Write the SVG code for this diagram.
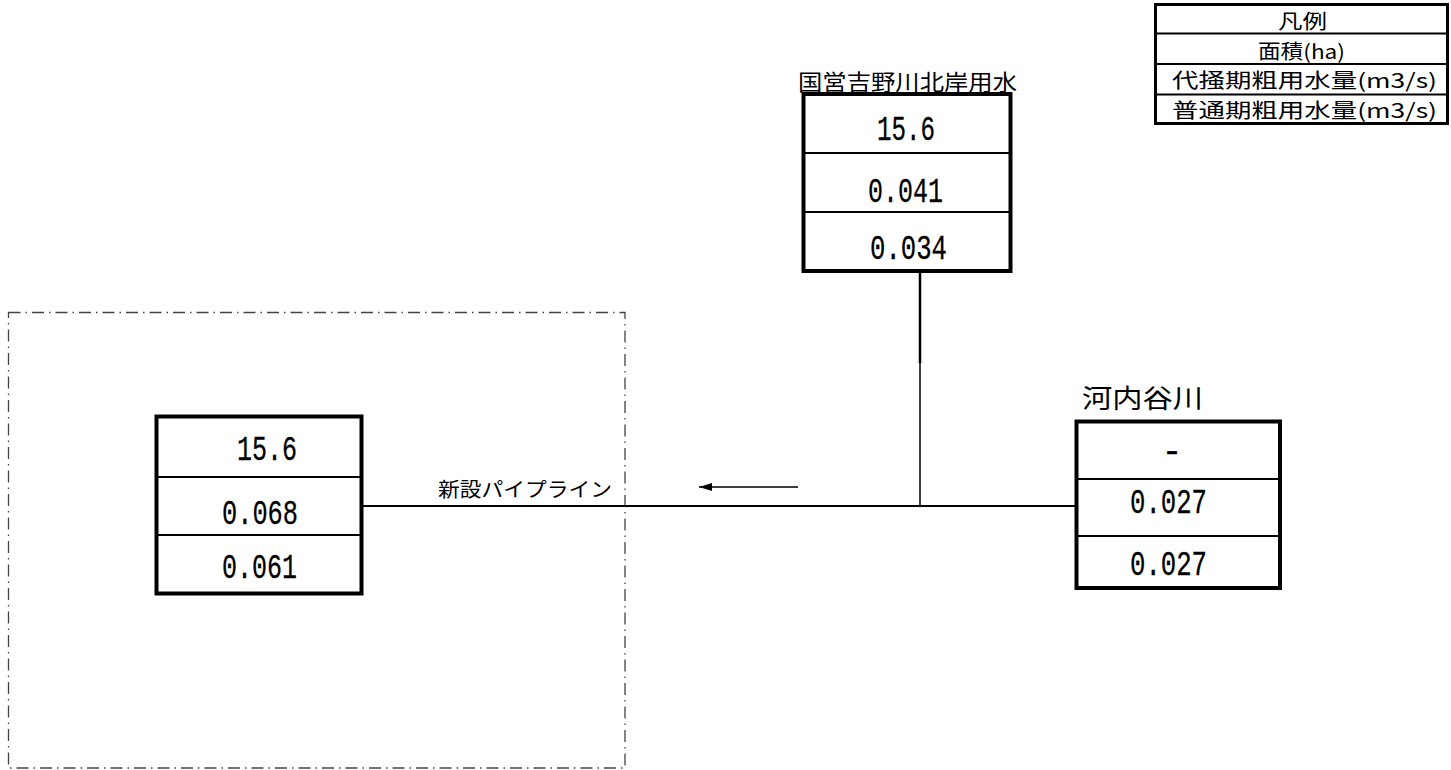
<svg xmlns="http://www.w3.org/2000/svg" width="1451" height="770" viewBox="0 0 1451 770">
<defs>
<style>
.box{fill:#fff;stroke:#000;stroke-width:4}
.div{stroke:#000;stroke-width:2;fill:none}
.num{font-family:"Liberation Mono","DejaVu Sans Mono",monospace;font-size:35px;fill:#000;stroke:#000;stroke-width:0.3}
.jp{font-family:"Noto Sans CJK JP","Noto Sans CJK SC",sans-serif;fill:#000}
.conn{stroke:#000;fill:none}
.zone{fill:none;stroke:#444;stroke-width:1.3;stroke-dasharray:12 5 1.5 5}
</style>
<marker id="ah" markerUnits="userSpaceOnUse" markerWidth="14" markerHeight="9" refX="13" refY="4" orient="auto">
<path d="M0,0 L13,4 L0,8 z" fill="#000"/>
</marker>
</defs>
<rect width="1451" height="770" fill="#fff"/>

<g id="zone">
<rect class="zone" x="8.5" y="312.5" width="616.5" height="455.5"/>
</g>

<g id="connectors">
<path class="conn" stroke-width="2" d="M362 506 H1076"/>
<path class="conn" stroke-width="2.5" d="M920 272 V363"/>
<path class="conn" stroke-width="1.5" d="M920 363 V506"/>
<path class="conn" stroke-width="1.3" d="M798 487 H699" marker-end="url(#ah)"/>
<text class="jp" x="438" y="497" font-size="20" textLength="174" lengthAdjust="spacingAndGlyphs">新設パイプライン</text>
</g>

<g id="legend">
<rect x="1155.5" y="4.5" width="292" height="119" fill="#fff" stroke="#000" stroke-width="3"/>
<path class="div" stroke-width="2.5" d="M1155 33.5 H1448 M1155 64 H1448 M1155 94.5 H1448"/>
<text class="jp" x="1278" y="29" font-size="20" textLength="49" lengthAdjust="spacingAndGlyphs">凡例</text>
<text class="jp" x="1258" y="58.5" font-size="20" textLength="87" lengthAdjust="spacingAndGlyphs">面積(ha)</text>
<text class="jp" x="1172" y="88" font-size="20" textLength="265" lengthAdjust="spacingAndGlyphs">代掻期粗用水量(m3/s)</text>
<text class="jp" x="1172" y="117.5" font-size="20" textLength="265" lengthAdjust="spacingAndGlyphs">普通期粗用水量(m3/s)</text>
</g>

<g id="node-kokuei">
<text class="jp" x="798" y="90" font-size="22" textLength="219" lengthAdjust="spacingAndGlyphs">国営吉野川北岸用水</text>
<rect class="box" x="803.5" y="94" width="207" height="177"/>
<path class="div" d="M804 153 H1010 M804 212 H1010"/>
<text class="num" x="877" y="140" textLength="58" lengthAdjust="spacingAndGlyphs">15.6</text>
<text class="num" x="868" y="202" textLength="75" lengthAdjust="spacingAndGlyphs">0.041</text>
<text class="num" x="870" y="259" textLength="77" lengthAdjust="spacingAndGlyphs">0.034</text>
</g>

<g id="node-kouchidani">
<text class="jp" x="1082" y="408" font-size="26" textLength="121" lengthAdjust="spacingAndGlyphs">河内谷川</text>
<rect class="box" x="1076.5" y="421.5" width="203.5" height="166.5"/>
<path class="div" d="M1077 479 H1280 M1077 536 H1280"/>
<text class="num" x="1172" y="462" text-anchor="middle">-</text>
<text class="num" x="1130" y="513" textLength="77" lengthAdjust="spacingAndGlyphs">0.027</text>
<text class="num" x="1130" y="575" textLength="77" lengthAdjust="spacingAndGlyphs">0.027</text>
</g>

<g id="node-new">
<rect class="box" x="156.5" y="416.5" width="205" height="177"/>
<path class="div" d="M157 477 H361 M157 535 H361"/>
<text class="num" x="237" y="460" textLength="60" lengthAdjust="spacingAndGlyphs">15.6</text>
<text class="num" x="222" y="524" textLength="76" lengthAdjust="spacingAndGlyphs">0.068</text>
<text class="num" x="222" y="578" textLength="75" lengthAdjust="spacingAndGlyphs">0.061</text>
</g>
</svg>
